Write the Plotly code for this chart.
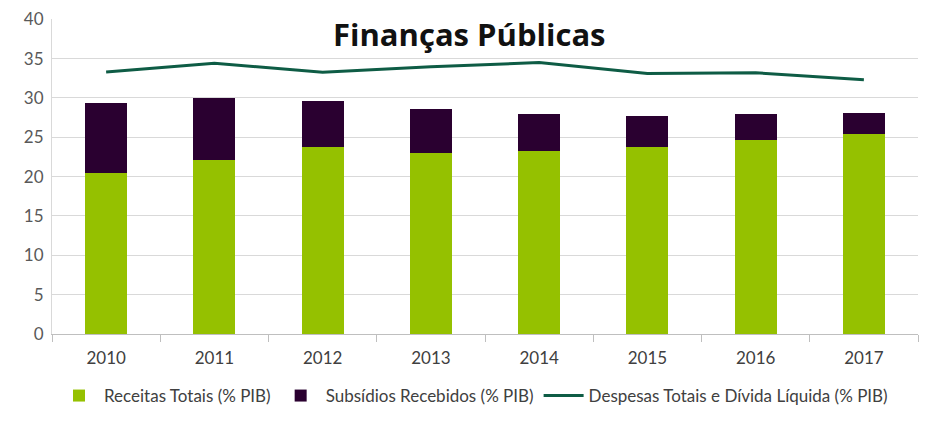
import plotly.graph_objects as go

years = ["2010", "2011", "2012", "2013", "2014", "2015", "2016", "2017"]
receitas = [20.4, 22.1, 23.8, 23.0, 23.25, 23.8, 24.65, 25.4]
subsidios = [9.0, 7.85, 5.8, 5.55, 4.7, 3.9, 3.35, 2.7]
despesas = [33.3, 34.4, 33.25, 33.95, 34.5, 33.1, 33.2, 32.3]
y_ticks = [0, 5, 10, 15, 20, 25, 30, 35, 40]

FONT = "Lato, Open Sans, sans-serif"
W, H = 925, 420  # page body has an 8px margin

fig = go.Figure()
fig.add_trace(go.Bar(x=years, y=receitas, name="Receitas Totais (% PIB)",
                     marker=dict(color="#95C100", line=dict(width=0))))
fig.add_trace(go.Bar(x=years, y=subsidios, name="Subsídios Recebidos (% PIB)",
                     marker=dict(color="#2A0030", line=dict(width=0))))
fig.add_trace(go.Scatter(x=years, y=despesas, mode="lines",
                         name="Despesas Totais e Dívida Líquida (% PIB)",
                         line=dict(color="#0E5C45", width=3)))

fig.update_layout(
    width=W, height=H,
    barmode="stack", bargap=0.61,
    paper_bgcolor="white", plot_bgcolor="white",
    margin=dict(l=44, r=15, t=11, b=94),
    font=dict(family=FONT, size=15, color="#404040"),
    showlegend=True,
    legend=dict(orientation="h", x=465.5 / W, xanchor="center", xref="container",
                y=(H - 388) / H, yanchor="middle", yref="container",
                font=dict(family=FONT, size=17, color="#404040"),
                traceorder="normal", itemwidth=40),
    annotations=[dict(text="<b>Finanças Públicas</b>", x=0.482, y=38.1,
                      xref="paper", yref="y", xanchor="center", yanchor="middle",
                      showarrow=False,
                      font=dict(family="Open Sans, sans-serif", size=31, color="#111111"))],
)
fig.update_yaxes(range=[0, 40.03], tickvals=y_ticks, showgrid=True, gridcolor="#D9D9D9",
                 gridwidth=1, zeroline=False, showline=True, linecolor="#D9D9D9",
                 automargin=False, ticklabelstandoff=4,
                 tickfont=dict(family=FONT, size=17, color="#595959"), ticks="")
fig.update_xaxes(showline=True, linecolor="#BFBFBF", ticks="outside", tickson="boundaries",
                 ticklen=7, tickcolor="#BFBFBF", automargin=False, ticklabelstandoff=9,
                 tickfont=dict(family=FONT, size=17, color="#404040"))

fig.write_html("out.html")
